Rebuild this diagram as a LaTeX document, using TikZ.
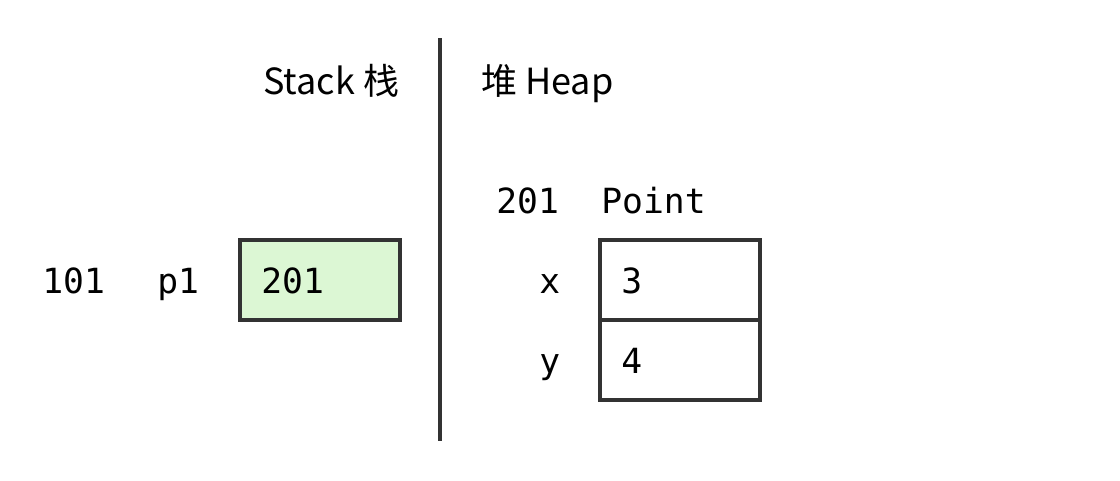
\documentclass[tikz,border=0pt]{standalone}
\usepackage{fontspec}
\setmonofont{DejaVu Sans Mono}
\newfontfamily\cjk{Noto Sans CJK SC}
\definecolor{framegray}{RGB}{51,51,51}
\definecolor{ptrgreen}{RGB}{220,247,212}
\tikzset{
  mono/.style={anchor=base west,inner sep=0pt,font=\fontsize{26}{30}\selectfont\ttfamily},
  head/.style={anchor=base west,inner sep=0pt,font=\fontsize{27}{32}\selectfont\cjk},
  cell/.style={draw=framegray,line width=3pt,anchor=north west,inner sep=0pt,outer sep=0pt,minimum width=120pt,minimum height=60pt},
}
\begin{document}
\begin{tikzpicture}[x=0.75pt,y=0.75pt,yscale=-1,xscale=1]
\useasboundingbox (0,0) rectangle (1120,480);

%Divider
\coordinate (divtop) at (440,38);
\coordinate (divbot) at (440,441);
\draw [color=framegray,line width=3pt] (divtop) -- (divbot);

% Text Node
\node [head] (stackhead) at (263,94) {Stack 栈};
% Text Node
\node [head] (heaphead) at (481,94) {堆 Heap};

%Shape: Rectangle
\node [cell,fill=ptrgreen] (p1cell) at (240,240) {};
%Shape: Rectangle
\node [cell] (xcell) at (600,240) {};
%Shape: Rectangle
\node [cell] (ycell) at (600,320) {};

% Text Node
\node [mono] (addr101) at (42,293) {101};
% Text Node
\node [mono] (p1name) at (157,293) {p1};
% Text Node
\node [mono] (p1val) at (261,293) {201};
% Text Node
\node [mono] (addr201) at (496,213) {201};
% Text Node
\node [mono] (ptype) at (601,213) {Point};
% Text Node
\node [mono] (xname) at (539,293) {x};
% Text Node
\node [mono] (xval) at (621,293) {3};
% Text Node
\node [mono] (yname) at (539,373) {y};
% Text Node
\node [mono] (yval) at (621,373) {4};

\end{tikzpicture}
\end{document}
